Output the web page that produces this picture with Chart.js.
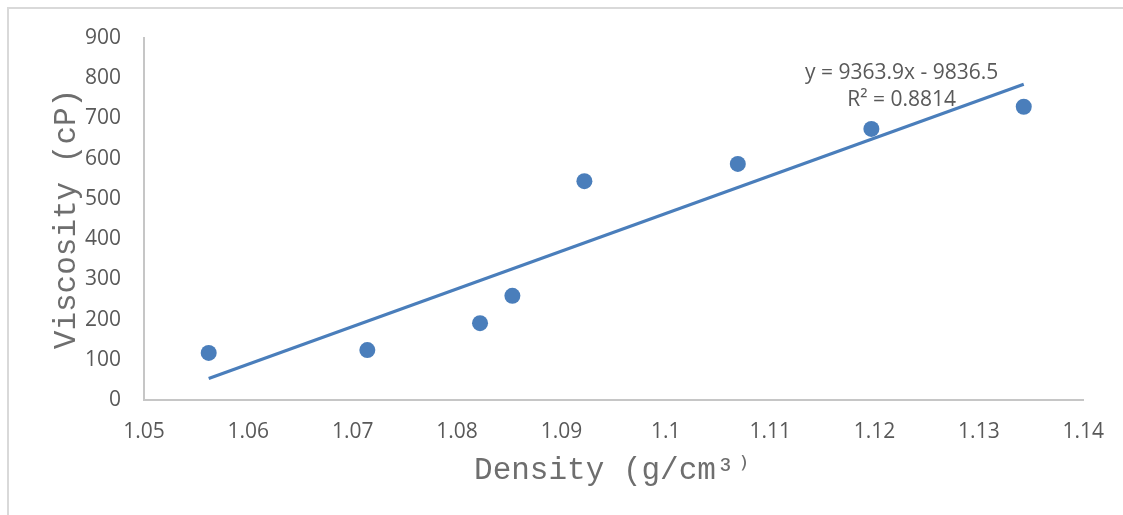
<!DOCTYPE html>
<html>
<head>
<meta charset="utf-8">
<script src="https://cdn.jsdelivr.net/npm/chart.js@4.4.1/dist/chart.umd.min.js"></script>
<style>
  html, body { margin: 0; padding: 0; background: #fff; }
  .frame {
    position: absolute; left: 7px; top: 7px; right: 0; bottom: 0;
    border-top: 2px solid #d9d9d9; border-left: 2px solid #d9d9d9;
  }
  .wrap { position: absolute; left: 0; top: 0; width: 1123px; height: 515px; }
</style>
</head>
<body>
<div class="frame"></div>
<div class="wrap"><canvas id="chartVisc"></canvas></div>
<script>
// measured samples
const density = [1.0562, 1.0714, 1.0822, 1.0853, 1.0922, 1.1069, 1.1197, 1.1343];
const viscosity = [117, 124, 191, 259, 544, 587, 674, 729];

// linear fit shown on the chart
const slope = 9363.9;
const intercept = -9836.5;
const rSquared = 0.8814;

const xTicks = [1.05, 1.06, 1.07, 1.08, 1.09, 1.1, 1.11, 1.12, 1.13, 1.14];
const yTicks = [0, 100, 200, 300, 400, 500, 600, 700, 800, 900];

const blue = "#4a7ebb";
const grey = "#595959";

const xMin = Math.min(...density);
const xMax = Math.max(...density);
const trend = [
  { x: xMin, y: slope * xMin + intercept },
  { x: xMax, y: slope * xMax + intercept },
];

// equation + R² text next to the trend line
const fitLabel = {
  id: "fitLabel",
  afterDatasetsDraw(chart) {
    const c = chart.ctx;
    const xs = chart.scales.x;
    const ys = chart.scales.y;
    const cx = xs.getPixelForValue(1.1226);
    c.save();
    c.fillStyle = grey;
    c.font = "21px 'Open Sans'";
    c.textAlign = "center";
    c.textBaseline = "middle";
    c.fillText("y = " + slope + "x - " + Math.abs(intercept), cx, ys.getPixelForValue(812));
    c.fillText("R² = " + rSquared, cx, ys.getPixelForValue(745));
    c.restore();
  },
};

const ctx = document.getElementById("chartVisc").getContext("2d");

let myChart = new Chart(ctx, {
  type: "scatter",
  data: {
    datasets: [
      {
        label: "Viscosity",
        data: density.map((d, i) => ({ x: d, y: viscosity[i] })),
        backgroundColor: blue,
        borderColor: blue,
        pointRadius: 8,
        pointHoverRadius: 8,
        borderWidth: 0,
        order: 1,
      },
      {
        label: "Linear",
        type: "line",
        data: trend,
        borderColor: blue,
        borderWidth: 3.2,
        pointRadius: 0,
        fill: false,
        order: 2,
      },
    ],
  },
  options: {
    animation: false,
    responsive: true,
    maintainAspectRatio: false,
    layout: {
      padding: { left: 0, top: 38, right: 38, bottom: 0 },
    },
    plugins: {
      legend: { display: false },
      tooltip: { enabled: false },
    },
    scales: {
      x: {
        type: "linear",
        min: 1.05,
        max: 1.14,
        afterBuildTicks: (scale) => {
          scale.ticks = xTicks.map((v) => ({ value: v }));
        },
        afterFit: (scale) => {
          scale.height = 115;
        },
        grid: { display: false, drawTicks: false },
        border: { display: true, color: "#c6c6c6", width: 2 },
        ticks: {
          padding: 19,
          color: grey,
          font: { family: "'Open Sans'", size: 21 },
          callback: (v) => String(Math.round(v * 100) / 100),
        },
        title: {
          display: true,
          text: "Density (g/cm³⁾",
          color: "#6e6e6e",
          font: { family: "'Liberation Mono', 'Courier New', monospace", size: 31 },
          padding: { top: 0, bottom: 26 },
        },
      },
      y: {
        min: 0,
        max: 900,
        afterBuildTicks: (scale) => {
          scale.ticks = yTicks.map((v) => ({ value: v }));
        },
        afterFit: (scale) => {
          scale.width = 144;
        },
        grid: { display: false, drawTicks: false },
        border: { display: true, color: "#c6c6c6", width: 2 },
        ticks: {
          padding: 23,
          color: grey,
          font: { family: "'Open Sans'", size: 21 },
        },
        title: {
          display: true,
          text: "Viscosity (cP)",
          color: "#6e6e6e",
          font: { family: "'Liberation Mono', 'Courier New', monospace", size: 31 },
          padding: { top: 48, bottom: 0 },
        },
      },
    },
  },
  plugins: [fitLabel],
});
</script>
</body>
</html>
